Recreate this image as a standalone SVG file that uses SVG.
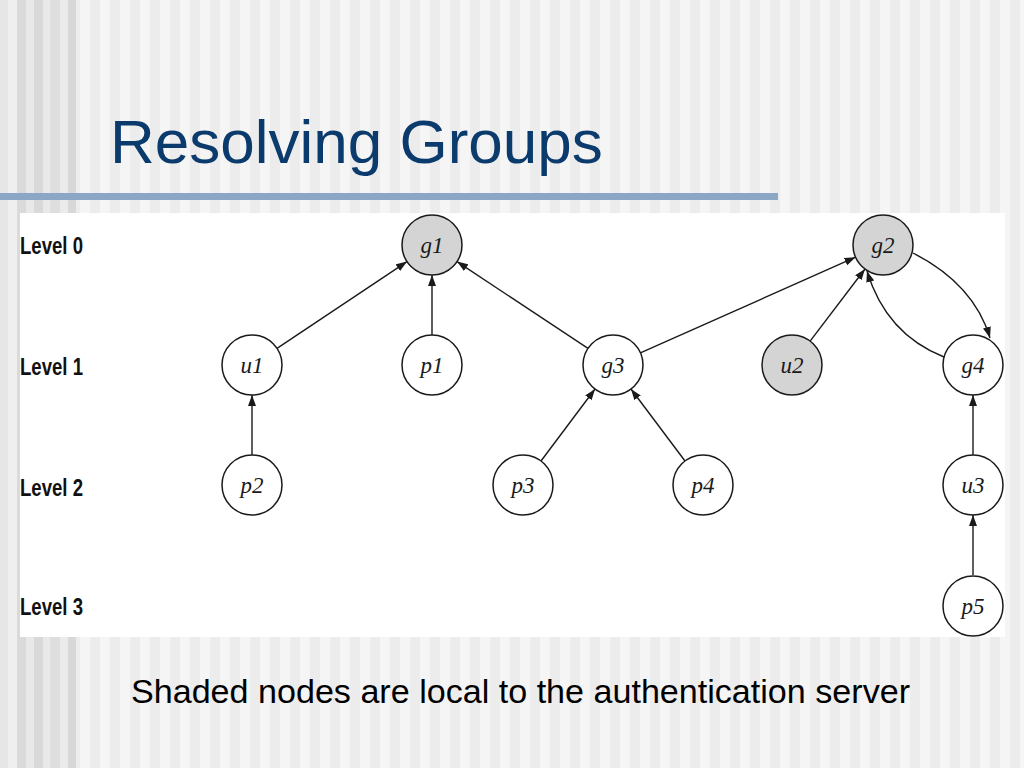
<svg xmlns="http://www.w3.org/2000/svg" width="1024" height="768" viewBox="0 0 1024 768">
<style>
.node{stroke:#1a1a1a;stroke-width:1.5;fill:#ffffff}
.shaded{fill:#d4d4d4}
.lbl{font-family:"Liberation Serif","Times New Roman",serif;font-style:italic;font-size:23px;fill:#1a1a1a;text-anchor:middle}
.lvl{font-family:"Liberation Sans Narrow","Liberation Sans",Arial,sans-serif;font-weight:bold;font-size:23px;fill:#111}
.edge{stroke:#1a1a1a;stroke-width:1.4;fill:none;marker-end:url(#arr)}
</style>
<defs>
<pattern id="stripes" x="0" y="0" width="20" height="10" patternUnits="userSpaceOnUse">
<rect x="0" y="0" width="10" height="10" fill="#f5f5f5"/>
<rect x="10" y="0" width="10" height="10" fill="#ececec"/>
</pattern>
<marker id="arr" markerWidth="11" markerHeight="8" refX="11" refY="4" orient="auto" markerUnits="userSpaceOnUse">
<path d="M0,0 L11,4 L0,8 z" fill="#1a1a1a"/>
</marker>
<clipPath id="panelClip"><rect x="20" y="213" width="985" height="424"/></clipPath>
</defs>
<g id="background">
<rect x="0" y="0" width="1024" height="768" fill="url(#stripes)"/>
<rect x="0" y="0" width="8" height="768" fill="#e6e6e6"/>
<rect x="8" y="0" width="9" height="768" fill="#efefef"/>
<rect x="17" y="0" width="9" height="768" fill="#dadada"/>
<rect x="26" y="0" width="8" height="768" fill="#e8e8e8"/>
<rect x="34" y="0" width="9" height="768" fill="#d9d9d9"/>
<rect x="43" y="0" width="7" height="768" fill="#e9e9e9"/>
<rect x="50" y="0" width="10" height="768" fill="#dedede"/>
<rect x="60" y="0" width="8" height="768" fill="#ebebeb"/>
<rect x="68" y="0" width="8" height="768" fill="#d8d8d8"/>
<rect x="0" y="193" width="778" height="7" fill="#8ca7c6"/>
<rect x="20" y="213" width="985" height="424" fill="#ffffff"/>
</g>
<text id="title" x="110" y="163" font-family="Liberation Sans, Arial, sans-serif" font-size="62" fill="#0b3a6c">Resolving Groups</text>
<g id="levels">
<text class="lvl" x="20" y="254" textLength="63" lengthAdjust="spacingAndGlyphs">Level 0</text>
<text class="lvl" x="20" y="375" textLength="63" lengthAdjust="spacingAndGlyphs">Level 1</text>
<text class="lvl" x="20" y="496" textLength="63" lengthAdjust="spacingAndGlyphs">Level 2</text>
<text class="lvl" x="20" y="615" textLength="63" lengthAdjust="spacingAndGlyphs">Level 3</text>
</g>
<g id="connectors">
<line class="edge" x1="277" y1="348.4" x2="407" y2="261.6"/>
<line class="edge" x1="432" y1="335" x2="432" y2="275"/>
<line class="edge" x1="588" y1="348.4" x2="457" y2="261.6"/>
<line class="edge" x1="640.4" y1="352.8" x2="855.6" y2="257.2"/>
<line class="edge" x1="810.1" y1="341.1" x2="865" y2="269"/>
<path class="edge" d="M913,253 Q974,284 990,338"/>
<path class="edge" d="M944,357 Q886,334 867,271"/>
<line class="edge" x1="252" y1="455" x2="252" y2="395"/>
<line class="edge" x1="541" y1="461" x2="595" y2="389"/>
<line class="edge" x1="685" y1="461" x2="631" y2="389"/>
<line class="edge" x1="973" y1="455" x2="973" y2="395"/>
<line class="edge" x1="973" y1="575" x2="973" y2="515"/>
</g>
<g id="g1"><circle class="node shaded" cx="432" cy="245" r="30"/><text class="lbl" x="432" y="253">g1</text></g>
<g id="g2"><circle class="node shaded" cx="883" cy="245" r="30"/><text class="lbl" x="883" y="253">g2</text></g>
<g id="u1"><circle class="node" cx="252" cy="365" r="30"/><text class="lbl" x="252" y="373">u1</text></g>
<g id="p1"><circle class="node" cx="432" cy="365" r="30"/><text class="lbl" x="432" y="373">p1</text></g>
<g id="g3"><circle class="node" cx="613" cy="365" r="30"/><text class="lbl" x="613" y="373">g3</text></g>
<g id="u2"><circle class="node shaded" cx="792" cy="365" r="30"/><text class="lbl" x="792" y="373">u2</text></g>
<g id="g4"><circle class="node" cx="973" cy="365" r="30"/><text class="lbl" x="973" y="373">g4</text></g>
<g id="p2"><circle class="node" cx="252" cy="485" r="30"/><text class="lbl" x="252" y="493">p2</text></g>
<g id="p3"><circle class="node" cx="523" cy="485" r="30"/><text class="lbl" x="523" y="493">p3</text></g>
<g id="p4"><circle class="node" cx="703" cy="485" r="30"/><text class="lbl" x="703" y="493">p4</text></g>
<g id="u3"><circle class="node" cx="973" cy="485" r="30"/><text class="lbl" x="973" y="493">u3</text></g>
<g id="p5" clip-path="url(#panelClip)"><circle class="node" cx="973" cy="606" r="30"/><text class="lbl" x="973" y="614">p5</text></g>
<text id="caption" x="131" y="703" font-family="Liberation Sans, Arial, sans-serif" font-size="33" fill="#000" textLength="779" lengthAdjust="spacingAndGlyphs">Shaded nodes are local to the authentication server</text>
</svg>
